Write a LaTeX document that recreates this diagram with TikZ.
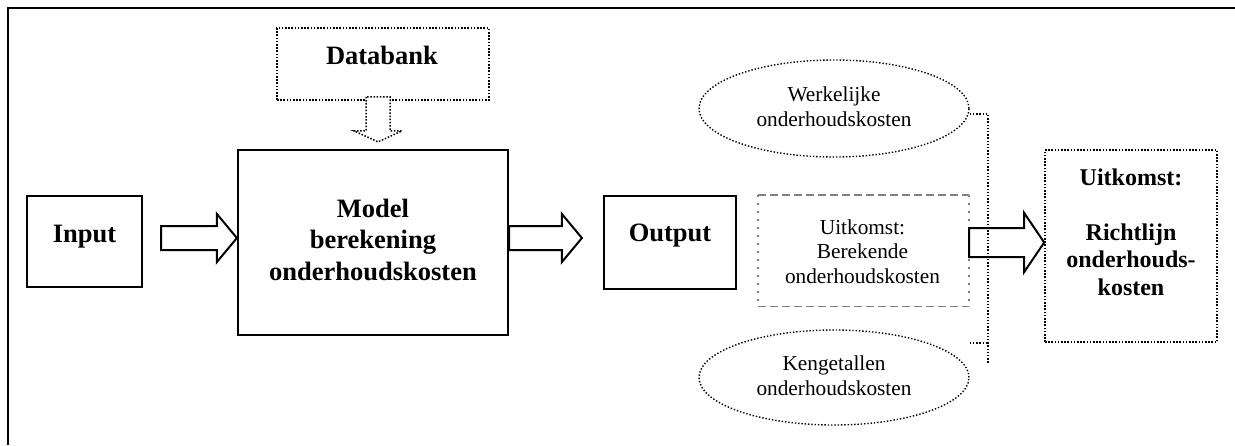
\documentclass[tikz,border=0pt]{standalone}
\usepackage{fontspec}
\setmainfont{Liberation Serif}
\usetikzlibrary{calc,shapes.geometric}

\newcommand{\blockarrow}[5]{%
  \draw[blockarr] let \p1=(#1), \p2=(#2) in
    (\x1,\y1+#3pt) -- (\x2-#5pt,\y1+#3pt) -- (\x2-#5pt,\y1+#4pt) -- (\x2,\y1)
    -- (\x2-#5pt,\y1-#4pt) -- (\x2-#5pt,\y1-#3pt) -- (\x1,\y1-#3pt) -- cycle;}

\begin{document}
\begin{tikzpicture}[x=1pt,y=-1pt,
    solidbox/.style={draw,line width=2.2pt,inner sep=0pt},
    dotbox/.style={draw,line width=1.6pt,dash pattern=on 1.6pt off 1.6pt,inner sep=0pt},
    dotoval/.style={ellipse,draw,line width=1.4pt,dash pattern=on 1.4pt off 1.9pt,inner sep=0pt},
    dotline/.style={line width=1.5pt,dash pattern=on 1.5pt off 1.7pt},
    grayside/.style={gray,line width=1.6pt,dash pattern=on 2pt off 6pt},
    graydash/.style={gray,line width=1.4pt,dash pattern=on 8pt off 4pt},
    bigtxt/.style={font=\bfseries\fontsize{26.5}{31.5}\selectfont,align=center,inner sep=0pt,anchor=base},
    midtxt/.style={font=\bfseries\fontsize{24}{27.5}\selectfont,align=center,inner sep=0pt,anchor=base},
    smalltxt/.style={font=\fontsize{21.3}{24.5}\selectfont,align=center,inner sep=0pt,anchor=base},
    blockarr/.style={draw,fill=white,line width=2pt,line join=miter}]
    \useasboundingbox (0,0) rectangle (1235,445);
    \draw[line width=2.6pt] (8,445) -- (8,8) -- (1235,8);

    \node[solidbox,minimum width=115,minimum height=91] (input) at (84.5,241.5) {};
    \node[solidbox,minimum width=270,minimum height=185] (model) at (373,242.5) {};
    \node[dotbox,minimum width=212,minimum height=72] (databank) at (383,64) {};
    \node[solidbox,minimum width=132,minimum height=93] (output) at (670,242.5) {};
    \node[dotoval,minimum width=270,minimum height=97] (werk) at (834,108.5) {};
    \node[minimum width=211,minimum height=111,inner sep=0pt] (uitber) at (863.5,250.5) {};
    \node[dotoval,minimum width=270,minimum height=95] (keng) at (834,377.5) {};
    \node[dotbox,minimum width=172,minimum height=192] (uitkomst) at (1131,246) {};

    \draw[graydash] (uitber.north west) -- (uitber.north east);
    \draw[graydash] (uitber.south west) -- (uitber.south east);
    \draw[grayside] (uitber.north west) -- (uitber.south west);
    \draw[grayside] (uitber.north east) -- (uitber.south east);

    \node[bigtxt] (inputtxt) at (84.5,242) {Input};
    \node[bigtxt] (modeltxt) at (373,280) {Model\\berekening\\onderhoudskosten};
    \node[bigtxt] (databanktxt) at (382,64) {Databank};
    \node[bigtxt] (outputtxt) at (670,241) {Output};
    \node[smalltxt] (werktxt) at (834,126) {Werkelijke\\onderhoudskosten};
    \node[smalltxt] (uitbertxt) at (862.5,283) {Uitkomst:\\Berekende\\onderhoudskosten};
    \node[smalltxt] (kengtxt) at (834,395) {Kengetallen\\onderhoudskosten};
    \node[midtxt] (uitkomsttxt) at (1131,295) {Uitkomst:\\\mbox{}\\Richtlijn\\onderhouds-\\kosten};

    \blockarrow{[xshift=18pt,yshift=3.5pt]input.east}{model.west}{12}{24}{20}
    \blockarrow{[yshift=4.5pt]model.east}{[xshift=-21pt]output.west}{12}{24}{20}
    \blockarrow{[yshift=8pt]uitber.east}{uitkomst.west}{14.5}{29.5}{20}

    \draw[blockarr,dotline] let \p1=(databank.south), \p2=(model.north) in
        (\x1-17pt,\y1+4pt) -- (\x1-17pt,\y2+18pt) -- (\x1-29pt,\y2+18pt) -- (\x1-5pt,\y2+7pt)
        -- (\x1+19pt,\y2+18pt) -- (\x1+7pt,\y2+18pt) -- (\x1+7pt,\y1+4pt) -- cycle;

    \coordinate (brtop) at (988,114);
    \coordinate (brbot) at (988,363);
    \draw[dotline] (werk.east |- brtop) -- (brtop) -- (brbot);
    \draw[dotline] (keng.east |- 0,343) -- (brtop |- 0,343);
\end{tikzpicture}
\end{document}
